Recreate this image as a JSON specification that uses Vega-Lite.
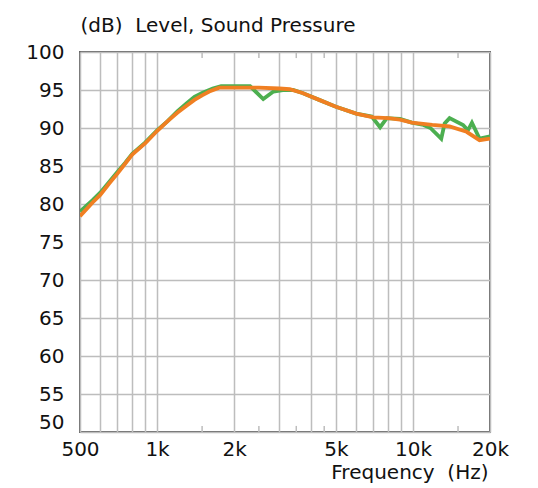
{
  "$schema": "https://vega.github.io/schema/vega-lite/v6.json",
  "width": 410,
  "height": 380,
  "autosize": {"type": "none"},
  "padding": {"left": 80, "top": 52, "right": 48, "bottom": 56},
  "background": "white",
  "config": {
    "font": "DejaVu Sans",
    "view": {"stroke": "#666666", "strokeWidth": 2},
    "axis": {"labelFont": "DejaVu Sans", "titleFont": "DejaVu Sans", "labelColor": "#111111", "titleColor": "#111111", "titleFontWeight": "normal"}
  },
  "datasets": {
    "halfticks": [
      {"freq": 1500}, {"freq": 2500}, {"freq": 3500}, {"freq": 4500}, {"freq": 15000}
    ],
    "curves": [
      {"freq": 500, "level": 79.0, "series": "measured"},
      {"freq": 560, "level": 80.5, "series": "measured"},
      {"freq": 600, "level": 81.5, "series": "measured"},
      {"freq": 650, "level": 82.9, "series": "measured"},
      {"freq": 700, "level": 84.2, "series": "measured"},
      {"freq": 750, "level": 85.4, "series": "measured"},
      {"freq": 800, "level": 86.6, "series": "measured"},
      {"freq": 900, "level": 88.1, "series": "measured"},
      {"freq": 1000, "level": 89.7, "series": "measured"},
      {"freq": 1100, "level": 90.9, "series": "measured"},
      {"freq": 1200, "level": 92.2, "series": "measured"},
      {"freq": 1300, "level": 93.2, "series": "measured"},
      {"freq": 1400, "level": 94.1, "series": "measured"},
      {"freq": 1500, "level": 94.6, "series": "measured"},
      {"freq": 1650, "level": 95.2, "series": "measured"},
      {"freq": 1780, "level": 95.5, "series": "measured"},
      {"freq": 2000, "level": 95.5, "series": "measured"},
      {"freq": 2310, "level": 95.5, "series": "measured"},
      {"freq": 2600, "level": 93.8, "series": "measured"},
      {"freq": 2850, "level": 94.8, "series": "measured"},
      {"freq": 3100, "level": 95.0, "series": "measured"},
      {"freq": 3400, "level": 95.0, "series": "measured"},
      {"freq": 3700, "level": 94.6, "series": "measured"},
      {"freq": 4300, "level": 93.7, "series": "measured"},
      {"freq": 5000, "level": 92.8, "series": "measured"},
      {"freq": 6000, "level": 91.9, "series": "measured"},
      {"freq": 6900, "level": 91.5, "series": "measured"},
      {"freq": 7440, "level": 90.1, "series": "measured"},
      {"freq": 7900, "level": 91.3, "series": "measured"},
      {"freq": 8900, "level": 91.2, "series": "measured"},
      {"freq": 9900, "level": 90.7, "series": "measured"},
      {"freq": 11000, "level": 90.4, "series": "measured"},
      {"freq": 11700, "level": 90.0, "series": "measured"},
      {"freq": 12900, "level": 88.6, "series": "measured"},
      {"freq": 13300, "level": 90.6, "series": "measured"},
      {"freq": 13900, "level": 91.3, "series": "measured"},
      {"freq": 15700, "level": 90.4, "series": "measured"},
      {"freq": 16400, "level": 89.7, "series": "measured"},
      {"freq": 17000, "level": 90.7, "series": "measured"},
      {"freq": 18200, "level": 88.6, "series": "measured"},
      {"freq": 20000, "level": 88.9, "series": "measured"},
      {"freq": 500, "level": 78.4, "series": "smoothed"},
      {"freq": 560, "level": 80.2, "series": "smoothed"},
      {"freq": 600, "level": 81.2, "series": "smoothed"},
      {"freq": 650, "level": 82.7, "series": "smoothed"},
      {"freq": 700, "level": 84.0, "series": "smoothed"},
      {"freq": 750, "level": 85.3, "series": "smoothed"},
      {"freq": 800, "level": 86.5, "series": "smoothed"},
      {"freq": 900, "level": 88.0, "series": "smoothed"},
      {"freq": 1000, "level": 89.6, "series": "smoothed"},
      {"freq": 1100, "level": 90.9, "series": "smoothed"},
      {"freq": 1200, "level": 92.0, "series": "smoothed"},
      {"freq": 1300, "level": 92.9, "series": "smoothed"},
      {"freq": 1400, "level": 93.7, "series": "smoothed"},
      {"freq": 1500, "level": 94.3, "series": "smoothed"},
      {"freq": 1600, "level": 94.8, "series": "smoothed"},
      {"freq": 1750, "level": 95.3, "series": "smoothed"},
      {"freq": 2000, "level": 95.3, "series": "smoothed"},
      {"freq": 2500, "level": 95.3, "series": "smoothed"},
      {"freq": 3000, "level": 95.2, "series": "smoothed"},
      {"freq": 3300, "level": 95.1, "series": "smoothed"},
      {"freq": 3700, "level": 94.6, "series": "smoothed"},
      {"freq": 4300, "level": 93.7, "series": "smoothed"},
      {"freq": 5000, "level": 92.8, "series": "smoothed"},
      {"freq": 6000, "level": 91.9, "series": "smoothed"},
      {"freq": 7000, "level": 91.4, "series": "smoothed"},
      {"freq": 8000, "level": 91.3, "series": "smoothed"},
      {"freq": 8900, "level": 91.1, "series": "smoothed"},
      {"freq": 9900, "level": 90.7, "series": "smoothed"},
      {"freq": 11900, "level": 90.4, "series": "smoothed"},
      {"freq": 13900, "level": 90.2, "series": "smoothed"},
      {"freq": 16200, "level": 89.5, "series": "smoothed"},
      {"freq": 18200, "level": 88.4, "series": "smoothed"},
      {"freq": 20000, "level": 88.6, "series": "smoothed"}
    ]
  },
  "layer": [
    {
      "data": {"name": "curves"},
      "mark": {"type": "line", "strokeWidth": 3.8, "clip": true},
      "encoding": {
        "x": {
          "field": "freq", "type": "quantitative",
          "scale": {"type": "log", "domain": [500, 20000], "nice": false},
          "axis": {
            "values": [500, 600, 700, 800, 900, 1000, 2000, 3000, 4000, 5000, 6000, 7000, 8000, 9000, 10000, 20000],
            "tickCount": 40,
            "labelExpr": "datum.value == 500 ? '500' : datum.value == 1000 ? '1k' : datum.value == 2000 ? '2k' : datum.value == 5000 ? '5k' : datum.value == 10000 ? '10k' : datum.value == 20000 ? '20k' : ''",
            "labelOverlap": false,
            "labelFlush": false,
            "labelFontSize": 20,
            "labelPadding": 7,
            "domain": false,
            "ticks": false,
            "tickSize": 0,
            "grid": true,
            "gridColor": "#bdbdbd",
            "gridWidth": 1.5,
            "title": "Frequency\u00a0\u00a0(Hz)",
            "titleFontSize": 20,
            "titleAnchor": null,
            "titleAlign": "right",
            "titleBaseline": "middle",
            "titleX": 408,
            "titleY": 40
          }
        },
        "y": {
          "field": "level", "type": "quantitative",
          "scale": {"domain": [50, 100], "nice": false, "zero": false},
          "axis": {
            "values": [50, 55, 60, 65, 70, 75, 80, 85, 90, 95, 100],
            "tickCount": 20,
            "labelOverlap": false,
            "labelFontSize": 20,
            "labelPadding": 16,
            "labelBaseline": {"condition": {"test": "datum.value == 50", "value": "bottom"}, "value": "middle"},
            "domain": false,
            "ticks": false,
            "tickSize": 0,
            "grid": true,
            "gridColor": "#bdbdbd",
            "gridWidth": 1.5,
            "title": "(dB)\u00a0\u00a0Level, Sound Pressure",
            "titleFontSize": 20,
            "titleAngle": 0,
            "titleAlign": "left",
            "titleBaseline": "alphabetic",
            "titleAnchor": null,
            "titleX": 0,
            "titleY": -21
          }
        },
        "color": {
          "field": "series", "type": "nominal",
          "scale": {"domain": ["measured", "smoothed"], "range": ["#4caf50", "#f07f22"]},
          "legend": null
        }
      }
    },
    {
      "data": {"name": "halfticks"},
      "mark": {"type": "rule", "color": "#bdbdbd", "strokeWidth": 1.5},
      "encoding": {
        "x": {"field": "freq", "type": "quantitative"},
        "y": {"datum": 50},
        "y2": {"datum": 50.8}
      }
    },
    {
      "data": {"name": "halfticks"},
      "mark": {"type": "rule", "color": "#bdbdbd", "strokeWidth": 1.5},
      "encoding": {
        "x": {"field": "freq", "type": "quantitative"},
        "y": {"datum": 99.2},
        "y2": {"datum": 100}
      }
    }
  ]
}
